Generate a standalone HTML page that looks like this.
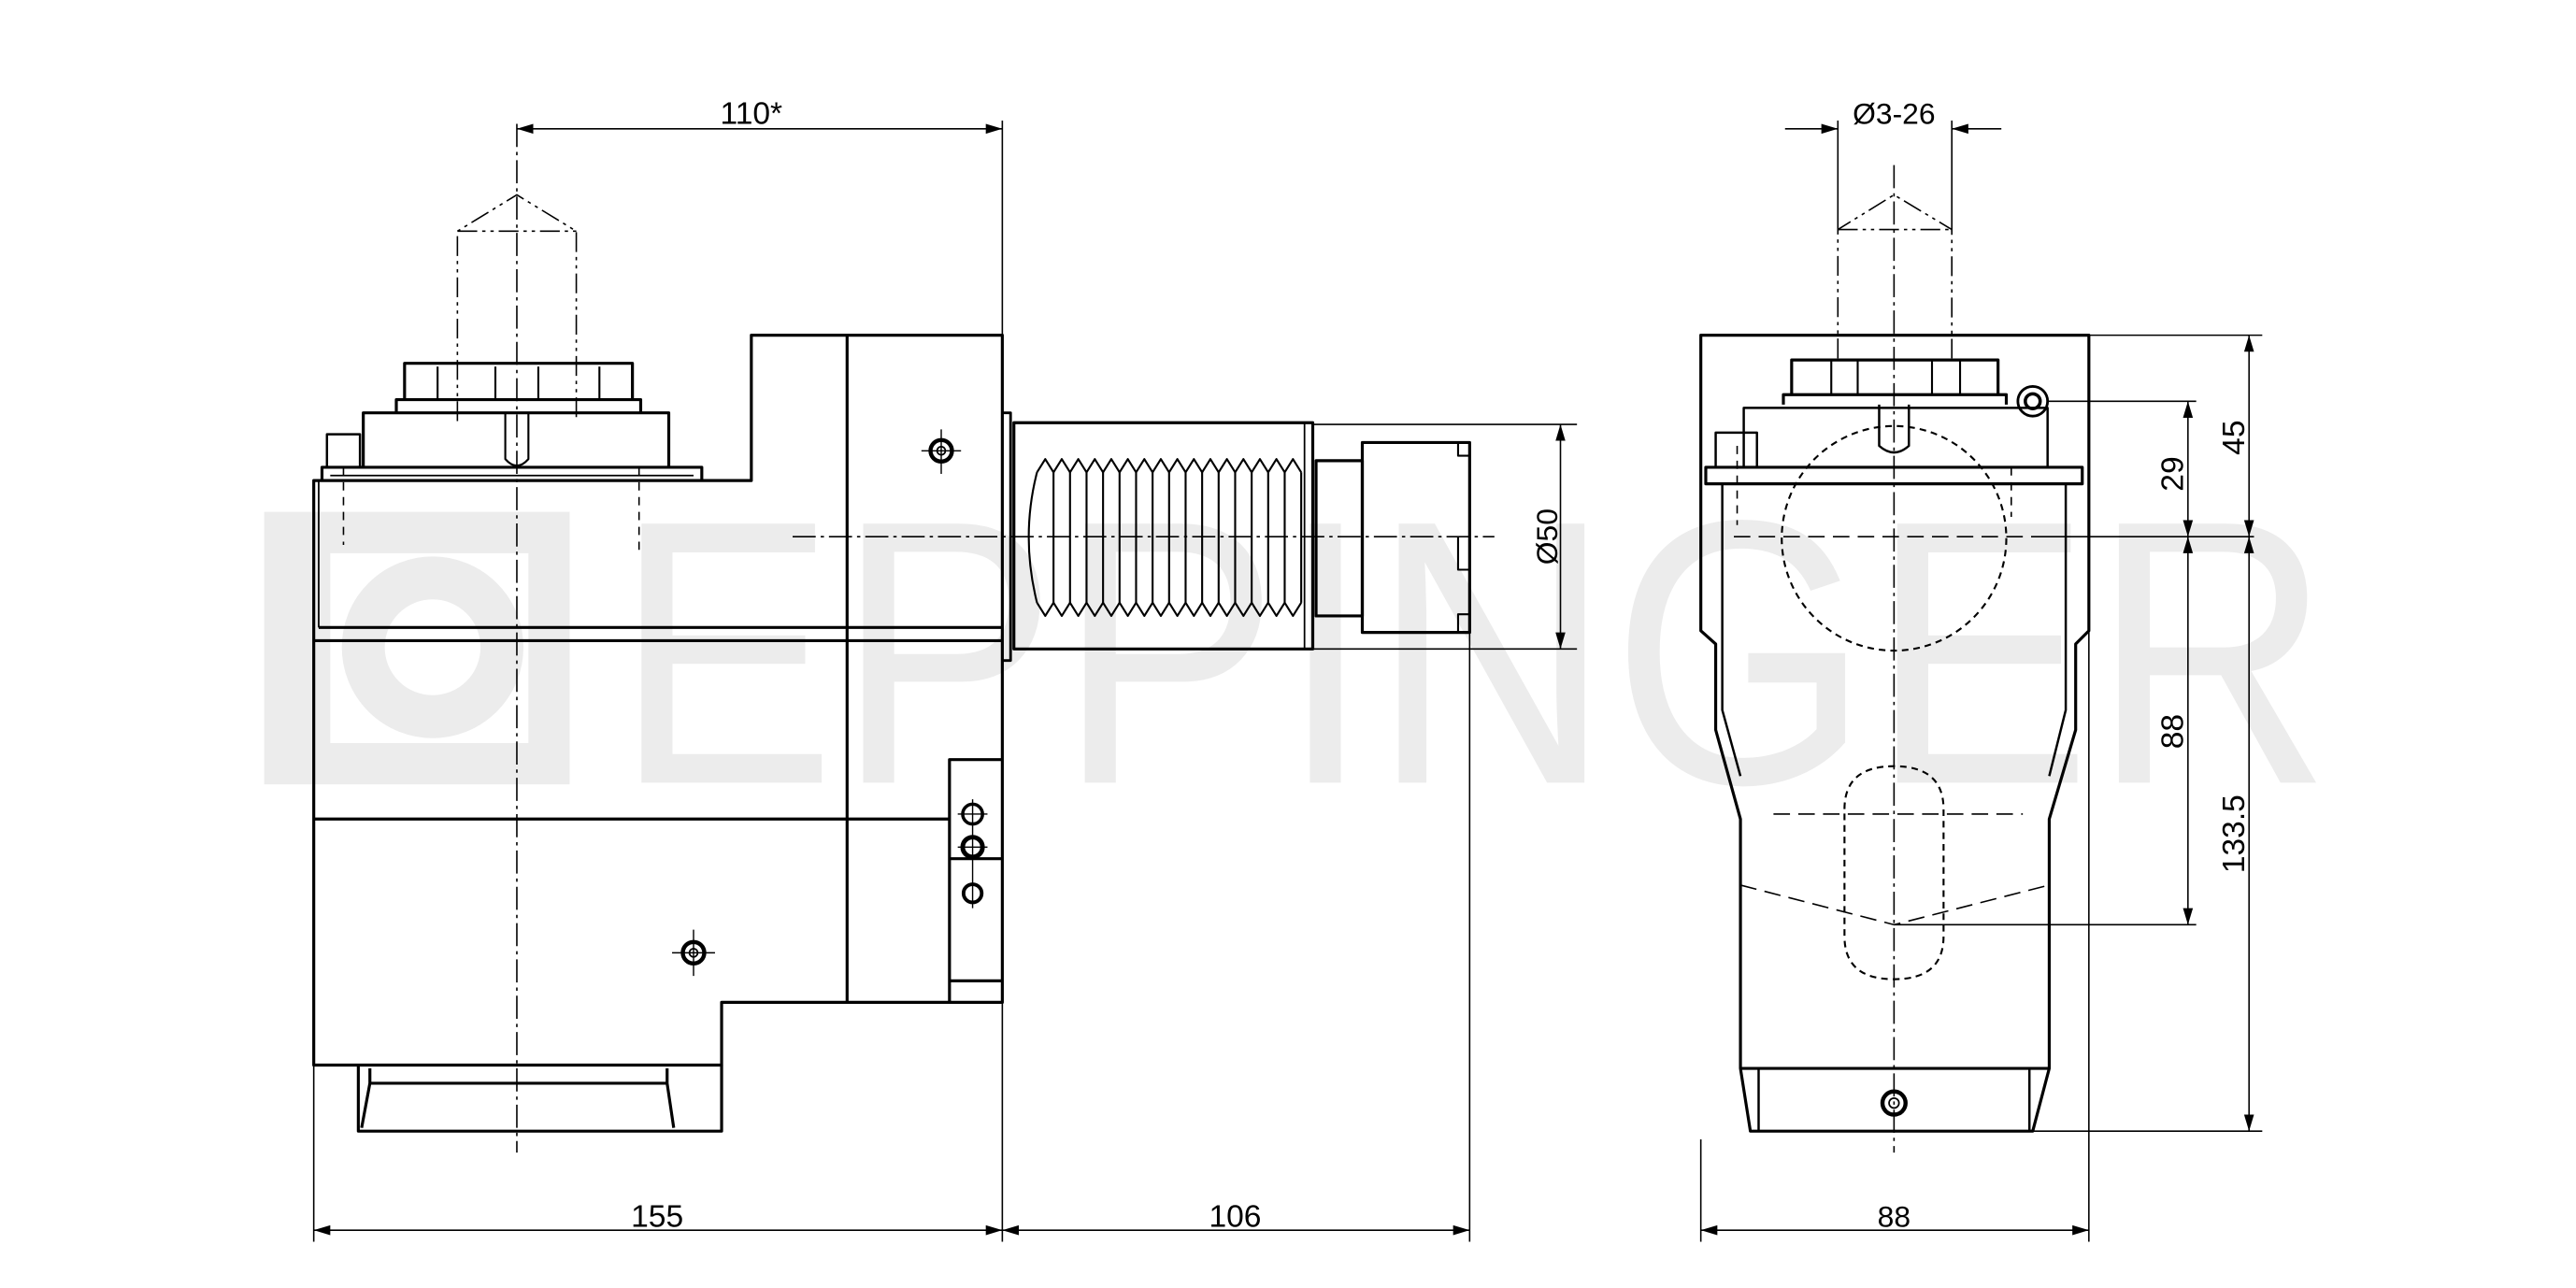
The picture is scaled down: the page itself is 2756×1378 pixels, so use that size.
<!DOCTYPE html>
<html><head><meta charset="utf-8"><style>
html,body{margin:0;padding:0;background:#fff;}
svg{display:block;}
text{font-family:"Liberation Sans Narrow","Liberation Sans",sans-serif;fill:#000;}
</style></head><body>
<svg width="2756" height="1378" viewBox="0 0 1560 780" xmlns="http://www.w3.org/2000/svg">
<defs>
<marker id="a" viewBox="0 0 10 6" refX="10" refY="3" markerWidth="10" markerHeight="6" orient="auto-start-reverse" markerUnits="userSpaceOnUse"><path d="M0,0 L10,3 L0,6 z" fill="#000"/></marker>
</defs>
<rect width="1560" height="780" fill="#fff"/>
<!-- watermark -->
<g fill="#ececec" stroke="none">
<path d="M160 310 h185 v165 h-185 z M200 335 v115 h120 v-115 z" fill-rule="evenodd"/>
<circle cx="262" cy="392" r="42" fill="none" stroke="#ececec" stroke-width="26"/>
<text x="372" y="474" font-size="228" textLength="1040" lengthAdjust="spacingAndGlyphs" style="fill:#ececec;font-family:'Liberation Sans',sans-serif">EPPINGER</text>
</g>

<g fill="none" stroke="#000" stroke-width="1.8" stroke-linejoin="round">
<!-- LEFT VIEW -->
<!-- body -->
<path d="M190 291 V645 H437 V607 H607 V203 H455 V291 Z" fill="none"/>
<line x1="513" y1="203" x2="513" y2="607"/>
<line x1="193" y1="380" x2="607" y2="380"/>
<line x1="190" y1="388" x2="607" y2="388"/>
<line x1="190" y1="496" x2="575" y2="496"/>
<line x1="193" y1="291" x2="193" y2="380" stroke-width="1"/>
<!-- bottom piece -->
<path d="M217 645 V685 H437 V645"/>
<line x1="224" y1="656" x2="404" y2="656"/>
<path d="M224 647 V656 L219 683 M404 647 V656 L408 683"/>
<!-- top flange & nut -->
<path d="M195 291 V283 H425 V291"/>
<line x1="200" y1="288" x2="420" y2="288" stroke-width="1"/>
<path d="M220 283 V250 H405 V283"/>
<path d="M240 250 V242 H388 V250"/>
<path d="M245 242 V220 H383 V242"/>
<line x1="265" y1="222" x2="265" y2="242" stroke-width="1.2"/>
<line x1="363" y1="222" x2="363" y2="242" stroke-width="1.2"/>
<line x1="300" y1="222" x2="300" y2="242" stroke-width="1.2"/>
<line x1="326" y1="222" x2="326" y2="242" stroke-width="1.2"/>
<path d="M306 250 V278 Q313 286 320 278 V250" stroke-width="1.2"/>
<path d="M198 283 V263 H218 V283" stroke-width="1.4"/>
<!-- screws -->
<circle cx="570" cy="273" r="6.5" stroke-width="2.5"/><circle cx="570" cy="273" r="2.5" stroke-width="1"/>
<path d="M558 273 H582 M570 260 V287" stroke-width="0.8"/>
<circle cx="420" cy="577" r="6.5" stroke-width="2.5"/><circle cx="420" cy="577" r="2.5" stroke-width="1"/>
<path d="M407 577 H433 M420 563 V591" stroke-width="0.8"/>
<!-- side plate -->
<path d="M575 607 V460 H607"/>
<line x1="575" y1="520" x2="607" y2="520"/>
<line x1="575" y1="594" x2="607" y2="594"/>
<circle cx="589" cy="493" r="6" stroke-width="2"/><circle cx="589" cy="513" r="6" stroke-width="2.8"/><circle cx="589" cy="541" r="5.5" stroke-width="2.2"/>
<path d="M580 493 H598 M580 513 H598 M589 484 V550" stroke-width="0.8"/>
<!-- shank -->
<path d="M607 250 H612 V400 H607" stroke-width="1.6"/>
<rect x="614" y="256" width="181" height="137"/>
<line x1="790" y1="256" x2="790" y2="393" stroke-width="1"/>
<path d="M628 286 L633 278 L638 286 L643 278 L648 286 L653 278 L658 286 L663 278 L668 286 L673 278 L678 286 L683 278 L688 286 L693 278 L698 286 L703 278 L708 286 L713 278 L718 286 L723 278 L728 286 L733 278 L738 286 L743 278 L748 286 L753 278 L758 286 L763 278 L768 286 L773 278 L778 286 L783 278 L788 286" stroke-width="1.2"/>
<path d="M628 365 L633 373 L638 365 L643 373 L648 365 L653 373 L658 365 L663 373 L668 365 L673 373 L678 365 L683 373 L688 365 L693 373 L698 365 L703 373 L708 365 L713 373 L718 365 L723 373 L728 365 L733 373 L738 365 L743 373 L748 365 L753 373 L758 365 L763 373 L768 365 L773 373 L778 365 L783 373 L788 365" stroke-width="1.2"/>
<path d="M628 286 Q618 325 628 365 M638 286 V365 M648 286 V365 M658 286 V365 M668 286 V365 M678 286 V365 M688 286 V365 M698 286 V365 M708 286 V365 M718 286 V365 M728 286 V365 M738 286 V365 M748 286 V365 M758 286 V365 M768 286 V365 M778 286 V365 M788 286 V365" stroke-width="1.2"/>
<rect x="797" y="279" width="28" height="94"/>
<path d="M825 268 H890 V383 H825 Z"/>
<path d="M883 268 V276 H890 M883 383 V372 H890 M883 325 V345 H890" stroke-width="1.2"/>
</g>

<!-- center / hidden lines -->
<g fill="none" stroke="#000" stroke-width="0.9">
<line x1="313" y1="75" x2="313" y2="698" stroke-dasharray="14 3 2 3"/>
<path d="M277 255 V140 L313 118 L349 140 V255 M277 140 H349" stroke-dasharray="12 3 2 3 2 3"/>
<line x1="480" y1="325" x2="905" y2="325" stroke-dasharray="14 3 2 3"/>
<line x1="387" y1="283" x2="387" y2="335" stroke-dasharray="5 4"/>
<line x1="208" y1="283" x2="208" y2="330" stroke-dasharray="5 4"/>
</g>

<!-- RIGHT VIEW -->
<g fill="none" stroke="#000" stroke-width="1.8" stroke-linejoin="round">
<path d="M1030 203 H1265 V382 L1257 390 V442 L1241 496 V647 L1231 685 H1060 L1054 647 V496 L1039 442 V390 L1030 382 Z"/>
<path d="M1043 293 V430 L1054 470 M1251 293 V430 L1241 470" stroke-width="1.4"/>
<line x1="1054" y1="647" x2="1241" y2="647"/>
<path d="M1065 647 V685 M1229 647 V685" stroke-width="1.4"/>
<path d="M1033 293 V283 H1261 V293 Z"/>
<path d="M1056 283 V247 H1240 V283" stroke-width="1.4"/>
<path d="M1080 245 V239 H1215 V245"/>
<path d="M1085 239 V218 H1210 V239"/>
<path d="M1109 218 V239 M1125 218 V239 M1170 218 V239 M1187 218 V239" stroke-width="1.2"/>
<path d="M1138 245 V270 Q1147 278 1156 270 V245" stroke-width="1.4"/>
<path d="M1039 283 V262 H1064 V283" stroke-width="1.4"/>
<circle cx="1231" cy="243" r="9" stroke-width="1.6"/><circle cx="1231" cy="243" r="4.5" stroke-width="2"/>
<circle cx="1147" cy="668" r="7" stroke-width="2.5"/><circle cx="1147" cy="668" r="3" stroke-width="1"/>
</g>
<g fill="none" stroke="#000" stroke-width="0.9">
<line x1="1147" y1="100" x2="1147" y2="698" stroke-dasharray="14 3 2 3"/>
<path d="M1113 217 V139 L1147 118 L1182 139 V217 M1113 139 H1182" stroke-dasharray="12 3 2 3 2 3"/>
<circle cx="1147" cy="326" r="68" stroke-dasharray="4 3" stroke-width="1.2"/>
<path d="M1117 490 Q1117 464 1147 464 Q1177 464 1177 490 V567 Q1177 593 1147 593 Q1117 593 1117 567 Z" stroke-dasharray="4 3" stroke-width="1.2"/>
<line x1="1074" y1="493" x2="1225" y2="493" stroke-dasharray="10 5"/>
<path d="M1054 536 L1147 560 L1241 536" stroke-dasharray="10 5"/>
<line x1="1050" y1="325" x2="1230" y2="325" stroke-dasharray="10 5"/>
<path d="M1218 283 V313 M1052 270 V318" stroke-dasharray="5 4"/>
</g>

<!-- DIMENSIONS -->
<g fill="none" stroke="#000" stroke-width="0.9">
<line x1="313" y1="78" x2="607" y2="78" marker-start="url(#a)" marker-end="url(#a)"/>
<line x1="607" y1="73" x2="607" y2="203"/>
<line x1="190" y1="645" x2="190" y2="752"/>
<line x1="607" y1="607" x2="607" y2="752"/>
<line x1="890" y1="383" x2="890" y2="752"/>
<line x1="190" y1="745" x2="607" y2="745" marker-start="url(#a)" marker-end="url(#a)"/>
<line x1="607" y1="745" x2="890" y2="745" marker-start="url(#a)" marker-end="url(#a)"/>
<line x1="795" y1="257" x2="955" y2="257"/>
<line x1="795" y1="393" x2="955" y2="393"/>
<line x1="945" y1="257" x2="945" y2="393" marker-start="url(#a)" marker-end="url(#a)"/>
<!-- right view dims -->
<line x1="1081" y1="78" x2="1113" y2="78" marker-end="url(#a)"/>
<line x1="1212" y1="78" x2="1182" y2="78" marker-end="url(#a)"/>
<line x1="1113" y1="73" x2="1113" y2="140"/>
<line x1="1182" y1="73" x2="1182" y2="140"/>
<line x1="1030" y1="690" x2="1030" y2="752"/>
<line x1="1265" y1="382" x2="1265" y2="752"/>
<line x1="1030" y1="745" x2="1265" y2="745" marker-start="url(#a)" marker-end="url(#a)"/>
<line x1="1265" y1="203" x2="1370" y2="203"/>
<line x1="1240" y1="243" x2="1330" y2="243"/>
<line x1="1230" y1="325" x2="1365" y2="325"/>
<line x1="1147" y1="560" x2="1330" y2="560"/>
<line x1="1231" y1="685" x2="1370" y2="685"/>
<line x1="1325" y1="243" x2="1325" y2="325" marker-start="url(#a)" marker-end="url(#a)"/>
<line x1="1325" y1="325" x2="1325" y2="560" marker-start="url(#a)" marker-end="url(#a)"/>
<line x1="1362" y1="203" x2="1362" y2="325" marker-start="url(#a)" marker-end="url(#a)"/>
<line x1="1362" y1="325" x2="1362" y2="685" marker-start="url(#a)" marker-end="url(#a)"/>
</g>
<g font-size="19">
<text x="455" y="75" text-anchor="middle">110*</text>
<text x="398" y="743" text-anchor="middle">155</text>
<text x="748" y="743" text-anchor="middle">106</text>
<text x="1147" y="743" text-anchor="middle" style="font-family:'Liberation Sans',sans-serif" font-size="18">88</text>
<text x="1147" y="75" text-anchor="middle" style="font-family:'Liberation Sans',sans-serif" font-size="18">Ø3-26</text>
<text transform="translate(943 325) rotate(-90)" text-anchor="middle" style="font-family:'Liberation Sans',sans-serif" font-size="18">Ø50</text>
<text transform="translate(1322 287) rotate(-90)" text-anchor="middle">29</text>
<text transform="translate(1322 443) rotate(-90)" text-anchor="middle">88</text>
<text transform="translate(1359 265) rotate(-90)" text-anchor="middle">45</text>
<text transform="translate(1359 505) rotate(-90)" text-anchor="middle">133.5</text>
</g>
</svg>
</body></html>
